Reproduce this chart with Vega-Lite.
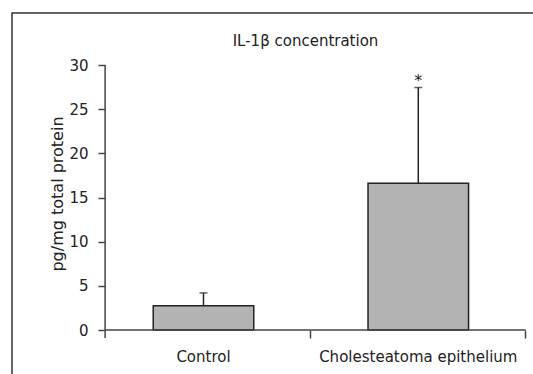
{
  "$schema": "https://vega.github.io/schema/vega-lite/v6.json",
  "width": 521,
  "height": 361,
  "autosize": {"type": "none"},
  "padding": {"left": 12, "top": 13, "right": 0, "bottom": 0},
  "background": "white",
  "config": {
    "font": "DejaVu Sans",
    "view": {"stroke": "#333333", "strokeWidth": 1.5, "strokeDash": [521, 882, 361]},
    "axis": {
      "labelFont": "DejaVu Sans", "labelFontSize": 15, "labelColor": "#222222", "labelLimit": 0,
      "titleFont": "DejaVu Sans", "titleFontSize": 16, "titleFontWeight": "normal", "titleColor": "#222222",
      "tickColor": "#444444", "tickWidth": 1.5, "grid": false, "domain": false
    }
  },
  "title": {
    "text": "IL-1β concentration", "frame": "group", "anchor": "middle",
    "offset": -36, "dx": 33, "fontSize": 15, "fontWeight": "normal", "color": "#222222", "font": "DejaVu Sans"
  },
  "data": {
    "values": [
      {"group": "Control", "mean": 2.75, "upper": 4.2, "sig": ""},
      {"group": "Cholesteatoma epithelium", "mean": 16.6, "upper": 27.45, "sig": "*"}
    ]
  },
  "encoding": {
    "x": {
      "field": "group", "type": "nominal", "sort": null,
      "scale": {"paddingInner": 0, "paddingOuter": 0.21275, "align": 0.92},
      "axis": {
        "orient": "bottom", "offset": -44, "title": null, "labelAngle": 0,
        "bandPosition": 1, "tickExtra": false, "tickSize": 8, "labelPadding": 11
      }
    },
    "y": {
      "type": "quantitative",
      "scale": {"domain": [-4.981, 35.887], "nice": false, "zero": false},
      "axis": {
        "orient": "left", "offset": -93, "values": [0, 5, 10, 15, 20, 25, 30],
        "tickSize": 7, "labelPadding": 10, "title": "pg/mg total protein", "titlePadding": 3
      }
    }
  },
  "layer": [
    {
      "mark": {"type": "bar", "fill": "#b3b3b3", "stroke": "#222222", "strokeWidth": 1.5, "width": {"band": 0.468}},
      "encoding": {"y": {"field": "mean", "type": "quantitative"}, "y2": {"datum": 0}}
    },
    {
      "mark": {"type": "rule", "color": "#222222", "strokeWidth": 1.5},
      "encoding": {"y": {"field": "mean", "type": "quantitative"}, "y2": {"field": "upper"}}
    },
    {
      "mark": {"type": "tick", "color": "#222222", "thickness": 1.5, "size": 8, "orient": "horizontal"},
      "encoding": {"y": {"field": "upper", "type": "quantitative"}}
    },
    {
      "mark": {"type": "text", "fontSize": 16, "color": "#222222", "baseline": "middle", "dy": -7},
      "encoding": {"y": {"field": "upper", "type": "quantitative"}, "text": {"field": "sig"}}
    },
    {
      "data": {"values": [{}]},
      "mark": {"type": "rule", "color": "#444444", "strokeWidth": 1.5},
      "encoding": {
        "x": {"datum": "Control", "bandPosition": 0.042},
        "y": {"datum": 30},
        "y2": {"datum": -0.906}
      }
    },
    {
      "data": {"values": [{}]},
      "mark": {"type": "rule", "color": "#444444", "strokeWidth": 1.5},
      "encoding": {
        "x": {"datum": "Control", "bandPosition": 0.042},
        "x2": {"datum": "Cholesteatoma epithelium", "bandPosition": 1},
        "y": {"datum": 0}
      }
    }
  ]
}
